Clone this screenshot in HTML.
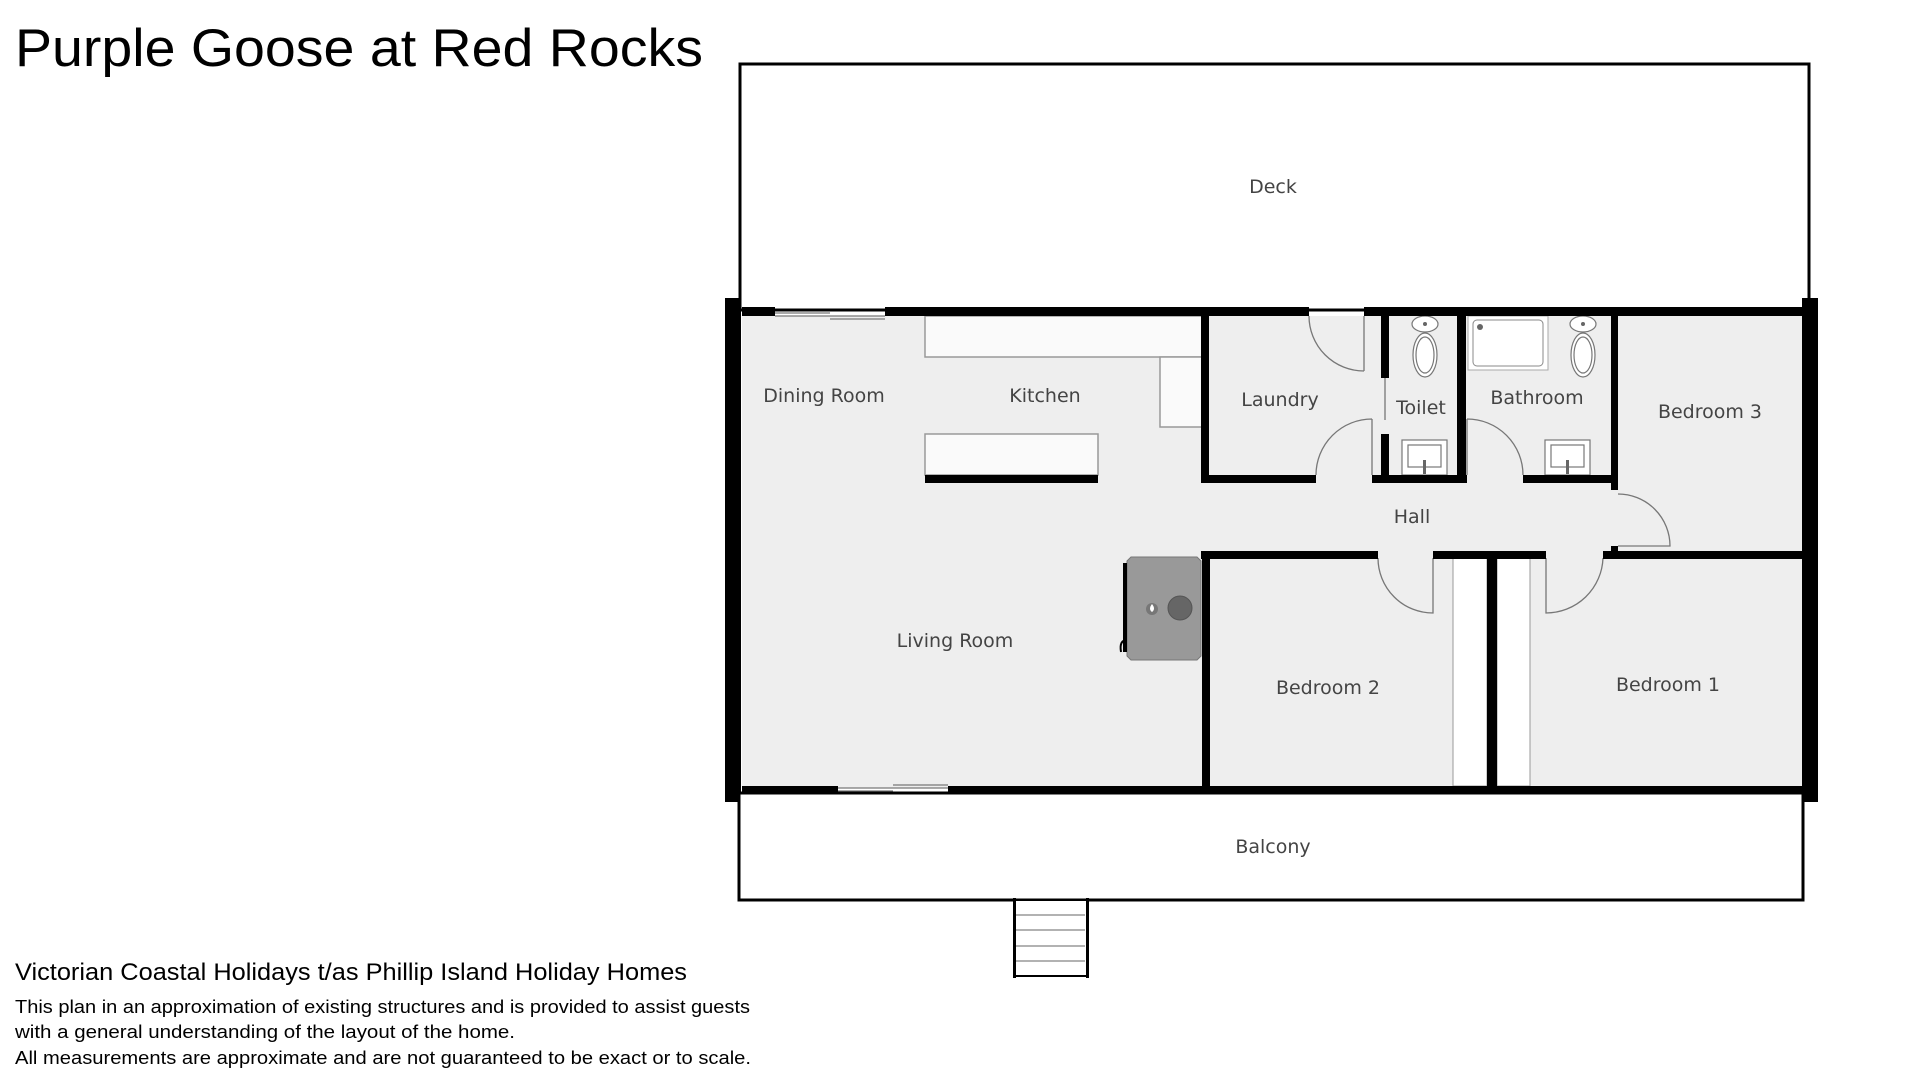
<!DOCTYPE html>
<html><head><meta charset="utf-8"><style>
html,body{margin:0;padding:0;background:#fff;}
svg{display:block;}
text{font-family:"Liberation Sans",sans-serif;}
.r{font-family:"DejaVu Sans","Liberation Sans",sans-serif;font-size:19px;fill:#444;text-anchor:middle;}
</style></head><body>
<svg width="1920" height="1080" viewBox="0 0 1920 1080" xmlns="http://www.w3.org/2000/svg">
<rect width="1920" height="1080" fill="#fff"/>
<text x="15" y="66" font-size="53" fill="#000" textLength="688" lengthAdjust="spacingAndGlyphs">Purple Goose at Red Rocks</text>

<rect x="740" y="64" width="1069" height="246" fill="#fff" stroke="#000" stroke-width="3"/>
<text class="r" x="1273" y="193">Deck</text>

<rect x="742" y="316" width="1060" height="472" fill="#eeeeee"/>

<rect x="925" y="316" width="277" height="41" fill="#fafafa" stroke="#999" stroke-width="1.5"/>
<rect x="1160" y="357" width="42" height="70" fill="#fafafa" stroke="#999" stroke-width="1.5"/>
<rect x="925" y="434" width="173" height="41" fill="#fafafa" stroke="#999" stroke-width="1.5"/>
<rect x="925" y="475" width="173" height="8" fill="#000"/>

<polygon points="1131,557 1197,557 1201,561 1201,656 1197,660 1131,660 1127,656 1127,561" fill="#999" stroke="#777"/>
<rect x="1123" y="563" width="4" height="89" fill="#000"/>
<path d="M1127,640 q-8,0 -6,12" stroke="#000" stroke-width="2" fill="none"/>
<circle cx="1180" cy="608" r="12" fill="#666" stroke="#555"/>
<circle cx="1152" cy="609" r="6" fill="#777"/>
<path d="M1152,604 q-4,5 0,8 q4,-3 0,-8z" fill="#fff"/>

<rect x="1468" y="316" width="80" height="54" fill="#fff" stroke="#aaa"/>
<rect x="1473" y="320" width="70" height="46" rx="4" fill="#fff" stroke="#888"/>
<circle cx="1480" cy="327" r="3" fill="#666"/>
<g fill="#fff" stroke="#777" stroke-width="1.2">
<ellipse cx="1425" cy="324" rx="13" ry="8"/><ellipse cx="1425" cy="355" rx="12" ry="22"/><ellipse cx="1425" cy="355" rx="9" ry="18"/>
<ellipse cx="1583" cy="324" rx="13" ry="8"/><ellipse cx="1583" cy="355" rx="12" ry="22"/><ellipse cx="1583" cy="355" rx="9" ry="18"/>
<rect x="1402" y="440" width="45" height="35"/><rect x="1408" y="445" width="33" height="22"/>
<rect x="1545" y="440" width="45" height="35"/><rect x="1551" y="445" width="33" height="22"/>
</g>
<circle cx="1425" cy="324" r="2" fill="#666"/><circle cx="1583" cy="324" r="2" fill="#666"/>
<rect x="1423" y="460" width="3" height="14" fill="#666"/><rect x="1566" y="460" width="3" height="14" fill="#666"/>

<rect x="1453" y="558" width="34" height="228" fill="#fff" stroke="#999"/>
<rect x="1497" y="558" width="33" height="228" fill="#fff" stroke="#999"/>

<g fill="none" stroke="#777" stroke-width="1.3">
<path d="M1309,316 A55,55 0 0 0 1364,371 M1364,316 V371"/>
<path d="M1316,475 A56,56 0 0 1 1372,419 M1372,419 V475"/>
<path d="M1467,419 V475 M1467,419 A56,56 0 0 1 1523,475"/>
<path d="M1618,494 A52,52 0 0 1 1670,546 H1618"/>
<path d="M1378,558 A55,55 0 0 0 1433,613 V558"/>
<path d="M1546,558 V613 A57,57 0 0 0 1603,558"/>
<path d="M775,316 H885 M775,313 H830 M830,319 H885"/>
<path d="M838,788 H948 M838,791 H893 M893,785 H948"/>
<path d="M1385,378 V420"/>
</g>

<g fill="#000">
<rect x="725" y="298" width="16" height="504"/>
<rect x="1802" y="298" width="16" height="504"/>
<rect x="742" y="307" width="33" height="9"/>
<rect x="885" y="307" width="424" height="9"/>
<rect x="1364" y="307" width="438" height="9"/>
<rect x="742" y="786" width="96" height="9"/>
<rect x="948" y="786" width="854" height="9"/>
<rect x="1201" y="316" width="8" height="167"/>
<rect x="1209" y="475" width="107" height="8"/>
<rect x="1381" y="316" width="8" height="62"/>
<rect x="1381" y="434" width="8" height="43"/>
<rect x="1372" y="475" width="95" height="8"/>
<rect x="1457" y="316" width="9" height="167"/>
<rect x="1523" y="475" width="95" height="8"/>
<rect x="1611" y="316" width="7" height="174"/>
<rect x="1611" y="546" width="7" height="12"/>
<rect x="1201" y="551" width="177" height="8"/>
<rect x="1433" y="551" width="113" height="8"/>
<rect x="1603" y="551" width="199" height="8"/>
<rect x="1202" y="551" width="8" height="237"/>
<rect x="1487" y="558" width="10" height="230"/>
</g>

<text class="r" x="824" y="402">Dining Room</text>
<text class="r" x="1045" y="402">Kitchen</text>
<text class="r" x="1280" y="406">Laundry</text>
<text class="r" x="1421" y="414">Toilet</text>
<text class="r" x="1537" y="404">Bathroom</text>
<text class="r" x="1710" y="418">Bedroom 3</text>
<text class="r" x="1412" y="523">Hall</text>
<text class="r" x="955" y="647">Living Room</text>
<text class="r" x="1328" y="694">Bedroom 2</text>
<text class="r" x="1668" y="691">Bedroom 1</text>

<rect x="739" y="793" width="1064" height="107" fill="#fff" stroke="#000" stroke-width="3"/>
<text class="r" x="1273" y="853">Balcony</text>
<rect x="1014" y="900" width="73" height="76" fill="#fff" stroke="#000" stroke-width="2"/>
<g stroke="#666" stroke-width="1"><line x1="1016" y1="915" x2="1085" y2="915"/><line x1="1016" y1="930" x2="1085" y2="930"/><line x1="1016" y1="946" x2="1085" y2="946"/><line x1="1016" y1="961" x2="1085" y2="961"/></g>
<rect x="1013" y="898" width="3" height="80" fill="#000"/><rect x="1086" y="898" width="3" height="80" fill="#000"/>

<text x="15" y="980" font-size="24" fill="#000" textLength="672" lengthAdjust="spacingAndGlyphs">Victorian Coastal Holidays t/as Phillip Island Holiday Homes</text>
<text x="15" y="1013" font-size="18" fill="#000" textLength="735" lengthAdjust="spacingAndGlyphs">This plan in an approximation of existing structures and is provided to assist guests</text>
<text x="15" y="1038" font-size="18" fill="#000" textLength="500" lengthAdjust="spacingAndGlyphs">with a general understanding of the layout of the home.</text>
<text x="15" y="1064" font-size="18" fill="#000" textLength="736" lengthAdjust="spacingAndGlyphs">All measurements are approximate and are not guaranteed to be exact or to scale.</text>
</svg>
</body></html>
